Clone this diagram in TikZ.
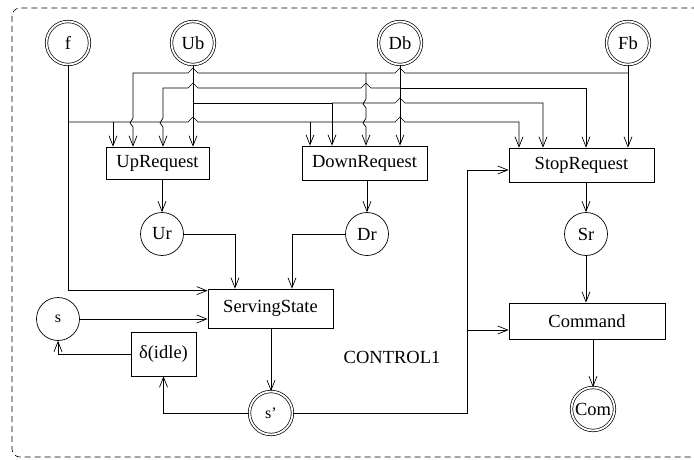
\documentclass[tikz,border=0pt]{standalone}
\usepackage{fontspec}
\setmainfont{Liberation Serif}
\usetikzlibrary{arrows.meta}

\newcommand{\bigfont}{\fontsize{18.5}{20}\selectfont}
\newcommand{\smallfont}{\fontsize{16}{18}\selectfont}
% line hops: right, left, down
\newcommand{\hopR}[2]{-- (#1-5,#2) -- (#1,#2-5) -- (#1+5,#2)}
\newcommand{\hopL}[2]{-- (#1+5,#2) -- (#1,#2-5) -- (#1-5,#2)}
\newcommand{\hopD}[2]{-- (#1,#2-4) -- (#1-3,#2+1) -- (#1,#2+5)}

\begin{document}
\begin{tikzpicture}[x=1pt, y=-1pt, line width=0.7pt,
    >={Straight Barb[length=10pt,width=8pt]},
    box/.style={draw, rectangle, inner sep=0pt, font=\bigfont},
    state/.style={draw, circle, minimum size=43pt, inner sep=0pt, font=\bigfont},
    port/.style={state, double, double distance=1.8pt}]

        \useasboundingbox (0,0) rectangle (694,460);

        % frame
        \draw[line width=0.6pt, dash pattern=on 6pt off 4pt, rounded corners=8pt] (12,8) rectangle (740,457);

        % inputs
        \node[port] (f) at (68,43) {f};
        \node[port] (Ub) at (193,43) {Ub};
        \node[port] (Db) at (400,43) {Db};
        \node[port] (Fb) at (628,43) {Fb};

        % requests
        \node[box, minimum width=103pt, minimum height=32pt] (UpRequest) at (157.5,163) {UpRequest};
        \node[box, minimum width=125pt, minimum height=34pt] (DownRequest) at (364.5,163) {DownRequest};
        \node[box, minimum width=145pt, minimum height=34pt] (StopRequest) at (581.5,165) {StopRequest};

        \node[state] (Ur) at (162,234) {Ur};
        \node[state] (Dr) at (367,234) {Dr};
        \node[state] (Sr) at (586,234) {Sr};

        % state loop
        \node[box, minimum width=125pt, minimum height=39pt] (ServingState) at (270.5,308.5) {ServingState};
        \node[state, font=\smallfont] (s) at (58,319) {s};
        \node[box, minimum width=65pt, minimum height=44pt] (idle) at (163.5,354) {δ(idle)};
        \node[port, font=\smallfont] (sp) at (271,413) {s’};

        \node[box, minimum width=156pt, minimum height=36pt] (Command) at (587,321) {Command};
        \node[port] (Com) at (593,409) {Com};

        \node[font=\bigfont] (name) at (392,357) {CONTROL1};

        % Fb bus
        \draw[->] (Fb) -- (Fb |- StopRequest.north);
        \draw[->] (Fb |- 0,73) \hopL{400}{73} \hopL{193}{73} -- (133,73) \hopD{133}{122} -- (133,0 |- UpRequest.north);
        \draw[->] (366,73) \hopD{366}{103} \hopD{366}{122} -- (366,0 |- DownRequest.north);

        % Db bus
        \draw[->] (Db) -- (Db |- DownRequest.north);
        \draw[->] (Db |- 0,88) \hopL{366}{88} \hopL{193}{88} -- (163,88) \hopD{163}{122} -- (163,0 |- UpRequest.north);
        \draw[->] (Db |- 0,88) -| (586,0 |- StopRequest.north);

        % Ub bus
        \draw[->] (Ub) -- (Ub |- UpRequest.north);
        \draw[->] (Ub |- 0,103) -| (332,0 |- DownRequest.north);
        \draw[->] (332,103) \hopR{400}{103} -| (543,0 |- StopRequest.north);

        % f bus
        \draw[->] (f) |- ([yshift=-2pt]ServingState.north west);
        \draw[->] (f |- 0,122) \hopR{193}{122} \hopR{400}{122} -| (519,0 |- StopRequest.north);
        \draw[->] (113,122) -- (113,0 |- UpRequest.north);
        \draw[->] (310,122) -- (310,0 |- DownRequest.north);

        % requests down
        \draw[->] (Ur |- UpRequest.south) -- (Ur);
        \draw[->] (Dr |- DownRequest.south) -- (Dr);
        \draw[->] (Sr |- StopRequest.south) -- (Sr);
        \draw[->] (Sr) -- (Sr |- Command.north);
        \draw[->] (Com |- Command.south) -- (Com);
        \draw[->] (Ur) -| (235,0 |- ServingState.north);
        \draw[->] (Dr) -| (292,0 |- ServingState.north);

        % loop
        \draw[->] (s) -- (s -| ServingState.west);
        \draw[->] (sp |- ServingState.south) -- (sp);
        \draw[->] (sp) -| (idle);
        \draw[->] (idle) -| (s);

        \coordinate (turn) at (467,170);
        \draw[->] (sp) -| (turn) -- (turn -| StopRequest.west);
        \draw[->] (turn |- 0,330) -- (Command.west |- 0,330);

    \end{tikzpicture}
\end{document}
